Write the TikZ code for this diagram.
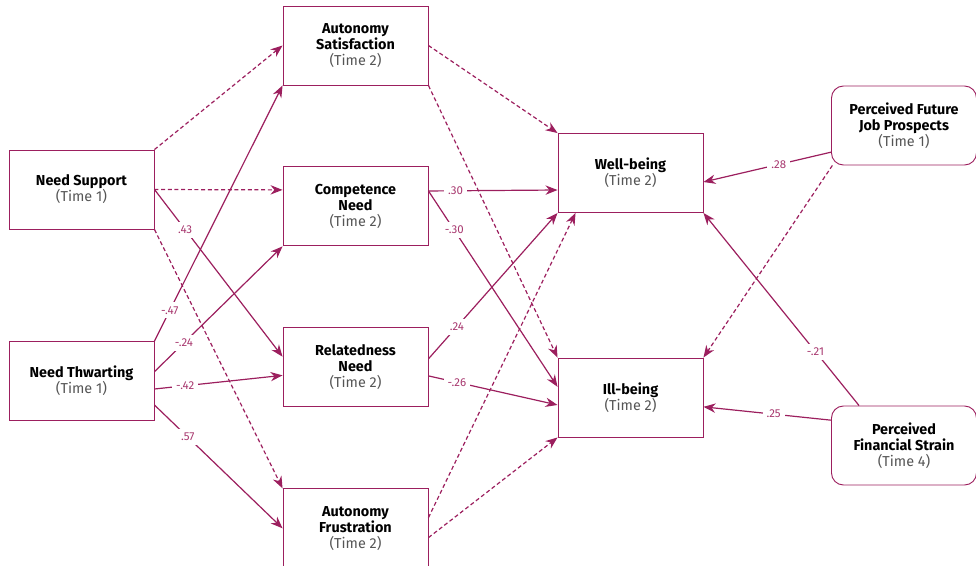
\documentclass[tikz,border=0pt]{standalone}
\usepackage{fontspec}
\setmainfont{Fira Sans}
\usepackage{tikz}
\usetikzlibrary{positioning,arrows.meta}
\definecolor{plum}{HTML}{9C1F5E}
\definecolor{plumlight}{HTML}{A8386F}
\definecolor{timegray}{HTML}{555555}
\newcommand{\timept}[1]{{\color{timegray}(Time #1)}}

\begin{document}
\begin{tikzpicture}[x=0.75pt, y=-0.75pt,
  var/.style={draw=plum, line width=0.7pt, minimum width=108.75pt,
              minimum height=59.25pt, align=center, inner sep=0pt,
              font=\fontsize{10.8}{12}\selectfont},
  ext/.style={var, rounded corners=9pt},
  arr/.style={-{Stealth[length=9pt, width=7pt]}, plum, line width=0.9pt},
  darr/.style={arr, dash pattern=on 3pt off 2pt},
  coef/.style={fill=white, inner sep=3pt, font=\fontsize{8.6}{10}\selectfont, text=plumlight}
]
  \useasboundingbox (0,0) rectangle (976,565);

  % Time 1 predictors
  \node[var] (ns) at (81.5,189.5) {\textbf{Need Support}\\\timept{1}};
  \node[var] (nt) at (81.5,381) {\textbf{Need Thwarting}\\\timept{1}};

  % Mediators (Time 2)
  \node[var] (as) at (355.5,45.5) {\textbf{Autonomy}\\\textbf{Satisfaction}\\\timept{2}};
  \node[var, below=60.75pt of as] (cn) {\textbf{Competence}\\\textbf{Need}\\\timept{2}};
  \node[var, below=60.75pt of cn] (rn) {\textbf{Relatedness}\\\textbf{Need}\\\timept{2}};
  \node[var, below=60.75pt of rn] (af) {\textbf{Autonomy}\\\textbf{Frustration}\\\timept{2}};

  % Outcomes
  \node[var] (wb) at (630.5,173) {\textbf{Well-being}\\\timept{2}};
  \node[var] (ib) at (630.5,397.5) {\textbf{Ill-being}\\\timept{2}};

  % Covariates
  \node[ext] (jp) at (904,125.5) {\textbf{Perceived Future}\\\textbf{Job Prospects}\\\timept{1}};
  \node[ext] (fs) at (904,445.5) {\textbf{Perceived}\\\textbf{Financial Strain}\\\timept{4}};

  % Need support paths
  \draw[darr] (ns.north east) -- (as.west);
  \draw[darr] (ns.east) -- ([yshift=12.4pt]cn.west);
  \draw[darr] (ns.south east) -- (af.north west);
  \draw[arr] (ns.east) -- node[coef, pos=0.24] {.43} ([yshift=8pt]rn.west);

  % Need thwarting paths
  \draw[arr] (nt.north east) -- node[coef, pos=0.12] {-.47} (as.south west);
  \draw[arr] ([yshift=7pt]nt.east) -- node[coef, pos=0.23] {-.24} (cn.south west);
  \draw[arr] ([yshift=-6pt]nt.east) -- node[coef, pos=0.24] {-.42} ([yshift=-6pt]rn.west);
  \draw[arr] ([yshift=-18pt]nt.east) -- node[coef, pos=0.26] {.57} (af.west);

  % Mediators to outcomes
  \draw[darr] (as.east) -- (wb.north west);
  \draw[darr] (as.south east) -- (ib.north west);
  \draw[arr] ([yshift=11.6pt]cn.east) -- node[coef, pos=0.21] {.30} ([yshift=-12.75pt]wb.west);
  \draw[arr] ([yshift=11.6pt]cn.east) -- node[coef, pos=0.2] {-.30} ([yshift=8pt]ib.west);
  \draw[arr] ([yshift=6.4pt]rn.east) -- node[coef, pos=0.22] {.24} (wb.south west);
  \draw[arr] ([yshift=-6.4pt]rn.east) -- node[coef, pos=0.22] {-.26} ([yshift=-5.6pt]ib.west);
  \draw[darr] ([yshift=8pt]af.east) -- ([xshift=13.5pt]wb.south west);
  \draw[darr] ([yshift=-7pt]af.east) -- (ib.south west);

  % Covariates to outcomes
  \draw[arr] ([yshift=-20pt]jp.west) -- node[coef, pos=0.41] {.28} ([yshift=-6.75pt]wb.east);
  \draw[darr] ([xshift=1pt]jp.south west) -- (ib.north east);
  \draw[arr] ([xshift=21pt]fs.north west) -- node[coef, pos=0.28] {-.21} (wb.south east);
  \draw[arr] ([yshift=19pt]fs.west) -- node[coef, pos=0.45] {.25} ([yshift=-7pt]ib.east);
\end{tikzpicture}
\end{document}
